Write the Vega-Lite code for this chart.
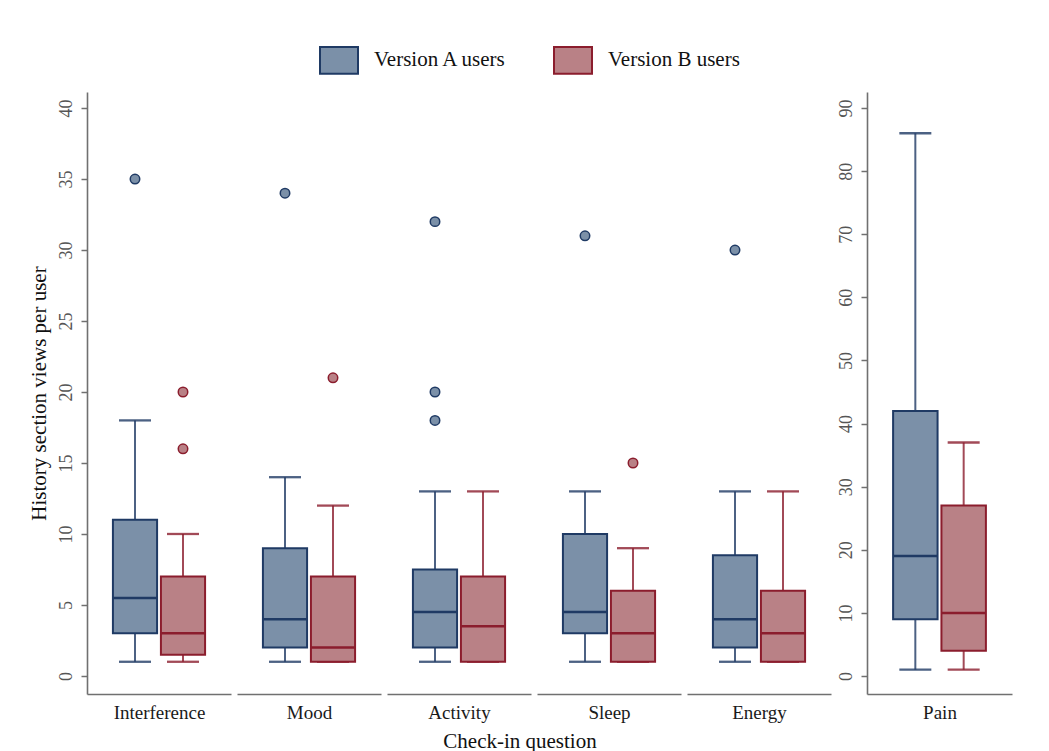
{
  "$schema": "https://vega.github.io/schema/vega-lite/v6.json",
  "padding": {"left": 28, "top": 40, "right": 10, "bottom": 5},
  "background": "white",
  "title": {"text": "Check-in question", "orient": "bottom", "anchor": "middle", "font": "Liberation Serif", "fontSize": 21, "fontWeight": "normal", "color": "#111111", "offset": 9},
  "config": {
    "font": "Liberation Serif",
    "view": {"stroke": null},
    "axis": {"grid": false, "domainColor": "#707070", "domainWidth": 1.6, "tickColor": "#707070", "tickWidth": 1.5, "tickSize": 6, "labelFont": "Liberation Serif", "labelFontSize": 18, "labelColor": "#555555", "titleFont": "Liberation Serif", "titleFontWeight": "normal", "titleColor": "#111111"},
    "axisX": {"labels": false, "ticks": false, "titleFontSize": 19, "titlePadding": 9, "titleColor": "#1a1a1a"},
    "axisY": {"labelAngle": -90, "labelAlign": "center", "labelBaseline": "bottom", "labelPadding": 6},
    "legend": {"symbolType": "M-1,-0.7H1V0.7H-1Z", "symbolSize": 1444, "symbolStrokeWidth": 2, "symbolOpacity": 1, "labelFont": "Liberation Serif", "labelFontSize": 21, "labelColor": "#111111", "labelOffset": 15, "columnPadding": 43}
  },
  "data": {"values": [
    {"kind": "box", "q": "Interference", "v": "Version A users", "lw": 1, "q1": 3, "med": 5.5, "q3": 11, "uw": 18},
    {"kind": "box", "q": "Interference", "v": "Version B users", "lw": 1, "q1": 1.5, "med": 3, "q3": 7, "uw": 10},
    {"kind": "box", "q": "Mood", "v": "Version A users", "lw": 1, "q1": 2, "med": 4, "q3": 9, "uw": 14},
    {"kind": "box", "q": "Mood", "v": "Version B users", "lw": 1, "q1": 1, "med": 2, "q3": 7, "uw": 12},
    {"kind": "box", "q": "Activity", "v": "Version A users", "lw": 1, "q1": 2, "med": 4.5, "q3": 7.5, "uw": 13},
    {"kind": "box", "q": "Activity", "v": "Version B users", "lw": 1, "q1": 1, "med": 3.5, "q3": 7, "uw": 13},
    {"kind": "box", "q": "Sleep", "v": "Version A users", "lw": 1, "q1": 3, "med": 4.5, "q3": 10, "uw": 13},
    {"kind": "box", "q": "Sleep", "v": "Version B users", "lw": 1, "q1": 1, "med": 3, "q3": 6, "uw": 9},
    {"kind": "box", "q": "Energy", "v": "Version A users", "lw": 1, "q1": 2, "med": 4, "q3": 8.5, "uw": 13},
    {"kind": "box", "q": "Energy", "v": "Version B users", "lw": 1, "q1": 1, "med": 3, "q3": 6, "uw": 13},
    {"kind": "box", "q": "Pain", "v": "Version A users", "lw": 1, "q1": 9, "med": 19, "q3": 42, "uw": 86},
    {"kind": "box", "q": "Pain", "v": "Version B users", "lw": 1, "q1": 4, "med": 10, "q3": 27, "uw": 37},
    {"kind": "out", "q": "Interference", "v": "Version A users", "val": 35},
    {"kind": "out", "q": "Interference", "v": "Version B users", "val": 20},
    {"kind": "out", "q": "Interference", "v": "Version B users", "val": 16},
    {"kind": "out", "q": "Mood", "v": "Version A users", "val": 34},
    {"kind": "out", "q": "Mood", "v": "Version B users", "val": 21},
    {"kind": "out", "q": "Activity", "v": "Version A users", "val": 32},
    {"kind": "out", "q": "Activity", "v": "Version A users", "val": 20},
    {"kind": "out", "q": "Activity", "v": "Version A users", "val": 18},
    {"kind": "out", "q": "Sleep", "v": "Version A users", "val": 31},
    {"kind": "out", "q": "Sleep", "v": "Version B users", "val": 15},
    {"kind": "out", "q": "Energy", "v": "Version A users", "val": 30}
  ]},
  "resolve": {"scale": {"y": "independent", "x": "independent"}},
  "spacing": 6,
  "hconcat": [
    {
      "width": 144, "height": 602,
      "transform": [{"filter": "datum.q === 'Interference'"}],
      "encoding": {"x": {"field": "v", "type": "nominal", "scale": {"domain": ["Version A users", "Version B users"], "paddingInner": 0.08, "paddingOuter": 0.54}, "axis": {"title": "Interference"}}},
      "layer": [
        {"transform": [{"filter": "datum.kind === 'box'"}], "mark": {"type": "rule", "strokeWidth": 2, "strokeOpacity": 0.8},
         "encoding": {"y": {"field": "lw", "type": "quantitative", "scale": {"domain": [-1.27, 41.13], "nice": false, "zero": false}, "axis": {"values": [0, 5, 10, 15, 20, 25, 30, 35, 40], "title": "History section views per user", "titleFontSize": 21, "titlePadding": 8}}, "y2": {"field": "q1"},
           "stroke": {"field": "v", "type": "nominal", "scale": {"domain": ["Version A users", "Version B users"], "range": ["#1f3a64", "#8b1d2d"]}}}},
        {"transform": [{"filter": "datum.kind === 'box'"}], "mark": {"type": "rule", "strokeWidth": 2, "strokeOpacity": 0.8},
         "encoding": {"y": {"field": "q3", "type": "quantitative"}, "y2": {"field": "uw"}, "stroke": {"field": "v", "type": "nominal"}}},
        {"transform": [{"filter": "datum.kind === 'box'"}], "mark": {"type": "tick", "size": 30, "thickness": 0.3, "filled": false, "strokeWidth": 2, "opacity": 0.8},
         "encoding": {"y": {"field": "lw", "type": "quantitative"}, "stroke": {"field": "v", "type": "nominal"}}},
        {"transform": [{"filter": "datum.kind === 'box'"}], "mark": {"type": "tick", "size": 30, "thickness": 0.3, "filled": false, "strokeWidth": 2, "opacity": 0.8},
         "encoding": {"y": {"field": "uw", "type": "quantitative"}, "stroke": {"field": "v", "type": "nominal"}}},
        {"transform": [{"filter": "datum.kind === 'box'"}], "mark": {"type": "bar", "strokeWidth": 2, "opacity": 1},
         "encoding": {"y": {"field": "q1", "type": "quantitative"}, "y2": {"field": "q3"},
           "fill": {"field": "v", "type": "nominal", "scale": {"domain": ["Version A users", "Version B users"], "range": ["#7b90a8", "#b98186"]}, "legend": {"orient": "none", "legendX": 232, "legendY": -52, "direction": "horizontal", "title": null}},
           "stroke": {"field": "v", "type": "nominal", "legend": {"orient": "none", "legendX": 232, "legendY": -52, "direction": "horizontal", "title": null}}}},
        {"transform": [{"filter": "datum.kind === 'box'"}], "mark": {"type": "tick", "size": 42, "thickness": 0.5, "filled": false, "strokeWidth": 2, "opacity": 1},
         "encoding": {"y": {"field": "med", "type": "quantitative"}, "stroke": {"field": "v", "type": "nominal"}}},
        {"transform": [{"filter": "datum.kind === 'out'"}], "mark": {"type": "point", "filled": true, "size": 90, "strokeWidth": 1.5, "opacity": 1},
         "encoding": {"y": {"field": "val", "type": "quantitative"}, "fill": {"field": "v", "type": "nominal"}, "stroke": {"field": "v", "type": "nominal"}}}
      ]
    },
    {
      "width": 144, "height": 602,
      "transform": [{"filter": "datum.q === 'Mood'"}],
      "encoding": {"x": {"field": "v", "type": "nominal", "scale": {"domain": ["Version A users", "Version B users"], "paddingInner": 0.08, "paddingOuter": 0.54}, "axis": {"title": "Mood"}}},
      "layer": [
        {"transform": [{"filter": "datum.kind === 'box'"}], "mark": {"type": "rule", "strokeWidth": 2, "strokeOpacity": 0.8},
         "encoding": {"y": {"field": "lw", "type": "quantitative", "scale": {"domain": [-1.27, 41.13], "nice": false, "zero": false}, "axis": null}, "y2": {"field": "q1"}, "stroke": {"field": "v", "type": "nominal"}}},
        {"transform": [{"filter": "datum.kind === 'box'"}], "mark": {"type": "rule", "strokeWidth": 2, "strokeOpacity": 0.8},
         "encoding": {"y": {"field": "q3", "type": "quantitative"}, "y2": {"field": "uw"}, "stroke": {"field": "v", "type": "nominal"}}},
        {"transform": [{"filter": "datum.kind === 'box'"}], "mark": {"type": "tick", "size": 30, "thickness": 0.3, "filled": false, "strokeWidth": 2, "opacity": 0.8},
         "encoding": {"y": {"field": "lw", "type": "quantitative"}, "stroke": {"field": "v", "type": "nominal"}}},
        {"transform": [{"filter": "datum.kind === 'box'"}], "mark": {"type": "tick", "size": 30, "thickness": 0.3, "filled": false, "strokeWidth": 2, "opacity": 0.8},
         "encoding": {"y": {"field": "uw", "type": "quantitative"}, "stroke": {"field": "v", "type": "nominal"}}},
        {"transform": [{"filter": "datum.kind === 'box'"}], "mark": {"type": "bar", "strokeWidth": 2, "opacity": 1},
         "encoding": {"y": {"field": "q1", "type": "quantitative"}, "y2": {"field": "q3"}, "fill": {"field": "v", "type": "nominal"}, "stroke": {"field": "v", "type": "nominal"}}},
        {"transform": [{"filter": "datum.kind === 'box'"}], "mark": {"type": "tick", "size": 42, "thickness": 0.5, "filled": false, "strokeWidth": 2, "opacity": 1},
         "encoding": {"y": {"field": "med", "type": "quantitative"}, "stroke": {"field": "v", "type": "nominal"}}},
        {"transform": [{"filter": "datum.kind === 'out'"}], "mark": {"type": "point", "filled": true, "size": 90, "strokeWidth": 1.5, "opacity": 1},
         "encoding": {"y": {"field": "val", "type": "quantitative"}, "fill": {"field": "v", "type": "nominal"}, "stroke": {"field": "v", "type": "nominal"}}}
      ]
    },
    {
      "width": 144, "height": 602,
      "transform": [{"filter": "datum.q === 'Activity'"}],
      "encoding": {"x": {"field": "v", "type": "nominal", "scale": {"domain": ["Version A users", "Version B users"], "paddingInner": 0.08, "paddingOuter": 0.54}, "axis": {"title": "Activity"}}},
      "layer": [
        {"transform": [{"filter": "datum.kind === 'box'"}], "mark": {"type": "rule", "strokeWidth": 2, "strokeOpacity": 0.8},
         "encoding": {"y": {"field": "lw", "type": "quantitative", "scale": {"domain": [-1.27, 41.13], "nice": false, "zero": false}, "axis": null}, "y2": {"field": "q1"}, "stroke": {"field": "v", "type": "nominal"}}},
        {"transform": [{"filter": "datum.kind === 'box'"}], "mark": {"type": "rule", "strokeWidth": 2, "strokeOpacity": 0.8},
         "encoding": {"y": {"field": "q3", "type": "quantitative"}, "y2": {"field": "uw"}, "stroke": {"field": "v", "type": "nominal"}}},
        {"transform": [{"filter": "datum.kind === 'box'"}], "mark": {"type": "tick", "size": 30, "thickness": 0.3, "filled": false, "strokeWidth": 2, "opacity": 0.8},
         "encoding": {"y": {"field": "lw", "type": "quantitative"}, "stroke": {"field": "v", "type": "nominal"}}},
        {"transform": [{"filter": "datum.kind === 'box'"}], "mark": {"type": "tick", "size": 30, "thickness": 0.3, "filled": false, "strokeWidth": 2, "opacity": 0.8},
         "encoding": {"y": {"field": "uw", "type": "quantitative"}, "stroke": {"field": "v", "type": "nominal"}}},
        {"transform": [{"filter": "datum.kind === 'box'"}], "mark": {"type": "bar", "strokeWidth": 2, "opacity": 1},
         "encoding": {"y": {"field": "q1", "type": "quantitative"}, "y2": {"field": "q3"}, "fill": {"field": "v", "type": "nominal"}, "stroke": {"field": "v", "type": "nominal"}}},
        {"transform": [{"filter": "datum.kind === 'box'"}], "mark": {"type": "tick", "size": 42, "thickness": 0.5, "filled": false, "strokeWidth": 2, "opacity": 1},
         "encoding": {"y": {"field": "med", "type": "quantitative"}, "stroke": {"field": "v", "type": "nominal"}}},
        {"transform": [{"filter": "datum.kind === 'out'"}], "mark": {"type": "point", "filled": true, "size": 90, "strokeWidth": 1.5, "opacity": 1},
         "encoding": {"y": {"field": "val", "type": "quantitative"}, "fill": {"field": "v", "type": "nominal"}, "stroke": {"field": "v", "type": "nominal"}}}
      ]
    },
    {
      "width": 144, "height": 602,
      "transform": [{"filter": "datum.q === 'Sleep'"}],
      "encoding": {"x": {"field": "v", "type": "nominal", "scale": {"domain": ["Version A users", "Version B users"], "paddingInner": 0.08, "paddingOuter": 0.54}, "axis": {"title": "Sleep"}}},
      "layer": [
        {"transform": [{"filter": "datum.kind === 'box'"}], "mark": {"type": "rule", "strokeWidth": 2, "strokeOpacity": 0.8},
         "encoding": {"y": {"field": "lw", "type": "quantitative", "scale": {"domain": [-1.27, 41.13], "nice": false, "zero": false}, "axis": null}, "y2": {"field": "q1"}, "stroke": {"field": "v", "type": "nominal"}}},
        {"transform": [{"filter": "datum.kind === 'box'"}], "mark": {"type": "rule", "strokeWidth": 2, "strokeOpacity": 0.8},
         "encoding": {"y": {"field": "q3", "type": "quantitative"}, "y2": {"field": "uw"}, "stroke": {"field": "v", "type": "nominal"}}},
        {"transform": [{"filter": "datum.kind === 'box'"}], "mark": {"type": "tick", "size": 30, "thickness": 0.3, "filled": false, "strokeWidth": 2, "opacity": 0.8},
         "encoding": {"y": {"field": "lw", "type": "quantitative"}, "stroke": {"field": "v", "type": "nominal"}}},
        {"transform": [{"filter": "datum.kind === 'box'"}], "mark": {"type": "tick", "size": 30, "thickness": 0.3, "filled": false, "strokeWidth": 2, "opacity": 0.8},
         "encoding": {"y": {"field": "uw", "type": "quantitative"}, "stroke": {"field": "v", "type": "nominal"}}},
        {"transform": [{"filter": "datum.kind === 'box'"}], "mark": {"type": "bar", "strokeWidth": 2, "opacity": 1},
         "encoding": {"y": {"field": "q1", "type": "quantitative"}, "y2": {"field": "q3"}, "fill": {"field": "v", "type": "nominal"}, "stroke": {"field": "v", "type": "nominal"}}},
        {"transform": [{"filter": "datum.kind === 'box'"}], "mark": {"type": "tick", "size": 42, "thickness": 0.5, "filled": false, "strokeWidth": 2, "opacity": 1},
         "encoding": {"y": {"field": "med", "type": "quantitative"}, "stroke": {"field": "v", "type": "nominal"}}},
        {"transform": [{"filter": "datum.kind === 'out'"}], "mark": {"type": "point", "filled": true, "size": 90, "strokeWidth": 1.5, "opacity": 1},
         "encoding": {"y": {"field": "val", "type": "quantitative"}, "fill": {"field": "v", "type": "nominal"}, "stroke": {"field": "v", "type": "nominal"}}}
      ]
    },
    {
      "width": 144, "height": 602,
      "transform": [{"filter": "datum.q === 'Energy'"}],
      "encoding": {"x": {"field": "v", "type": "nominal", "scale": {"domain": ["Version A users", "Version B users"], "paddingInner": 0.08, "paddingOuter": 0.54}, "axis": {"title": "Energy"}}},
      "layer": [
        {"transform": [{"filter": "datum.kind === 'box'"}], "mark": {"type": "rule", "strokeWidth": 2, "strokeOpacity": 0.8},
         "encoding": {"y": {"field": "lw", "type": "quantitative", "scale": {"domain": [-1.27, 41.13], "nice": false, "zero": false}, "axis": null}, "y2": {"field": "q1"}, "stroke": {"field": "v", "type": "nominal"}}},
        {"transform": [{"filter": "datum.kind === 'box'"}], "mark": {"type": "rule", "strokeWidth": 2, "strokeOpacity": 0.8},
         "encoding": {"y": {"field": "q3", "type": "quantitative"}, "y2": {"field": "uw"}, "stroke": {"field": "v", "type": "nominal"}}},
        {"transform": [{"filter": "datum.kind === 'box'"}], "mark": {"type": "tick", "size": 30, "thickness": 0.3, "filled": false, "strokeWidth": 2, "opacity": 0.8},
         "encoding": {"y": {"field": "lw", "type": "quantitative"}, "stroke": {"field": "v", "type": "nominal"}}},
        {"transform": [{"filter": "datum.kind === 'box'"}], "mark": {"type": "tick", "size": 30, "thickness": 0.3, "filled": false, "strokeWidth": 2, "opacity": 0.8},
         "encoding": {"y": {"field": "uw", "type": "quantitative"}, "stroke": {"field": "v", "type": "nominal"}}},
        {"transform": [{"filter": "datum.kind === 'box'"}], "mark": {"type": "bar", "strokeWidth": 2, "opacity": 1},
         "encoding": {"y": {"field": "q1", "type": "quantitative"}, "y2": {"field": "q3"}, "fill": {"field": "v", "type": "nominal"}, "stroke": {"field": "v", "type": "nominal"}}},
        {"transform": [{"filter": "datum.kind === 'box'"}], "mark": {"type": "tick", "size": 42, "thickness": 0.5, "filled": false, "strokeWidth": 2, "opacity": 1},
         "encoding": {"y": {"field": "med", "type": "quantitative"}, "stroke": {"field": "v", "type": "nominal"}}},
        {"transform": [{"filter": "datum.kind === 'out'"}], "mark": {"type": "point", "filled": true, "size": 90, "strokeWidth": 1.5, "opacity": 1},
         "encoding": {"y": {"field": "val", "type": "quantitative"}, "fill": {"field": "v", "type": "nominal"}, "stroke": {"field": "v", "type": "nominal"}}}
      ]
    },
    {
      "width": 145, "height": 602,
      "transform": [{"filter": "datum.q === 'Pain'"}],
      "encoding": {"x": {"field": "v", "type": "nominal", "scale": {"domain": ["Version A users", "Version B users"], "paddingInner": 0.08, "paddingOuter": 0.54}, "axis": {"title": "Pain"}}},
      "layer": [
        {"transform": [{"filter": "datum.kind === 'box'"}], "mark": {"type": "rule", "strokeWidth": 2, "strokeOpacity": 0.8},
         "encoding": {"y": {"field": "lw", "type": "quantitative", "scale": {"domain": [-2.85, 92.54], "nice": false, "zero": false}, "axis": {"values": [0, 10, 20, 30, 40, 50, 60, 70, 80, 90], "title": null}}, "y2": {"field": "q1"}, "stroke": {"field": "v", "type": "nominal"}}},
        {"transform": [{"filter": "datum.kind === 'box'"}], "mark": {"type": "rule", "strokeWidth": 2, "strokeOpacity": 0.8},
         "encoding": {"y": {"field": "q3", "type": "quantitative"}, "y2": {"field": "uw"}, "stroke": {"field": "v", "type": "nominal"}}},
        {"transform": [{"filter": "datum.kind === 'box'"}], "mark": {"type": "tick", "size": 30, "thickness": 0.3, "filled": false, "strokeWidth": 2, "opacity": 0.8},
         "encoding": {"y": {"field": "lw", "type": "quantitative"}, "stroke": {"field": "v", "type": "nominal"}}},
        {"transform": [{"filter": "datum.kind === 'box'"}], "mark": {"type": "tick", "size": 30, "thickness": 0.3, "filled": false, "strokeWidth": 2, "opacity": 0.8},
         "encoding": {"y": {"field": "uw", "type": "quantitative"}, "stroke": {"field": "v", "type": "nominal"}}},
        {"transform": [{"filter": "datum.kind === 'box'"}], "mark": {"type": "bar", "strokeWidth": 2, "opacity": 1},
         "encoding": {"y": {"field": "q1", "type": "quantitative"}, "y2": {"field": "q3"}, "fill": {"field": "v", "type": "nominal"}, "stroke": {"field": "v", "type": "nominal"}}},
        {"transform": [{"filter": "datum.kind === 'box'"}], "mark": {"type": "tick", "size": 42, "thickness": 0.5, "filled": false, "strokeWidth": 2, "opacity": 1},
         "encoding": {"y": {"field": "med", "type": "quantitative"}, "stroke": {"field": "v", "type": "nominal"}}}
      ]
    }
  ]
}
